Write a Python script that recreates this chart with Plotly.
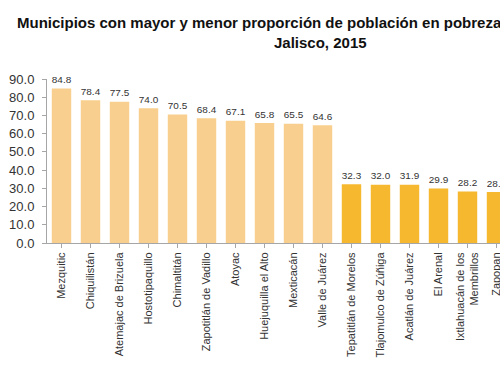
import plotly.graph_objects as go

categories = ["Mezquitic", "Chiquilistán", "Atemajac de Brizuela", "Hostotipaquillo",
              "Chimaltitán", "Zapotitlán de Vadillo", "Atoyac", "Huejuquilla el Alto",
              "Mexticacán", "Valle de Juárez", "Tepatitlán de Morelos", "Tlajomulco de Zúñiga",
              "Acatlán de Juárez", "El Arenal", "Ixtlahuacán de los<br>Membrillos", "Zapopan"]
values = [84.8, 78.4, 77.5, 74.0, 70.5, 68.4, 67.1, 65.8, 65.5, 64.6,
          32.3, 32.0, 31.9, 29.9, 28.2, 28.0]
groups = ["mayor"] * 10 + ["menor"] * 6
group_colors = {"mayor": "#F8CF8E", "menor": "#F5B82E"}
ytick_vals = [0, 10, 20, 30, 40, 50, 60, 70, 80, 90]

L, T, PH = 47, 79, 164
W, H = 500, 375
PW = W - L

fig = go.Figure(go.Bar(
    x=list(range(len(categories))),
    y=values,
    marker=dict(color=[group_colors[g] for g in groups], line=dict(width=0)),
    text=[f"{v:.1f}" for v in values],
    textposition="outside",
    textfont=dict(family="Liberation Sans, Arial", size=12.5, color="#333333"),
    cliponaxis=False,
    width=0.67,
))

fig.update_layout(
    width=W, height=H,
    margin=dict(l=L, r=0, t=T, b=H - T - PH, autoexpand=False),
    paper_bgcolor="white", plot_bgcolor="white",
    showlegend=False,
    font=dict(family="Liberation Sans, Arial", color="#333333"),
    annotations=[
        dict(text="<b>Municipios con mayor y menor proporción de población en pobreza</b>",
             xref="paper", yref="paper", x=(15 - L) / PW, y=(T + PH - 23) / PH,
             xanchor="left", yanchor="middle", showarrow=False,
             font=dict(size=15, color="#111111", family="Liberation Sans, Arial")),
        dict(text="<b>Jalisco, 2015</b>",
             xref="paper", yref="paper", x=(320 - L) / PW, y=(T + PH - 42) / PH,
             xanchor="center", yanchor="middle", showarrow=False,
             font=dict(size=15, color="#111111", family="Liberation Sans, Arial")),
    ],
)

fig.update_xaxes(
    tickmode="array", tickvals=list(range(len(categories))), ticktext=categories,
    range=[-0.5, -0.5 + PW / 29.0], tickangle=-90, automargin=False,
    ticklabeloverflow="allow",
    tickfont=dict(size=11, color="#333333"),
    showline=True, linecolor="#A6A6A6", linewidth=1,
    ticks="outside", tickson="boundaries", ticklen=4, tickcolor="#A6A6A6",
    showgrid=False, zeroline=False,
)
fig.update_yaxes(
    range=[0, 90], tickvals=ytick_vals, ticktext=[f"{v:.1f}" for v in ytick_vals],
    automargin=False,
    tickfont=dict(size=13, color="#333333"),
    showline=True, linecolor="#A6A6A6", linewidth=1,
    ticks="outside", ticklen=4, tickcolor="#A6A6A6",
    ticklabelstandoff=5,
    showgrid=False, zeroline=False,
)

fig.write_html(
    "out.html",
    config={"displayModeBar": False},
    post_script="document.body.style.margin='0';document.body.style.overflow='hidden';",
)
